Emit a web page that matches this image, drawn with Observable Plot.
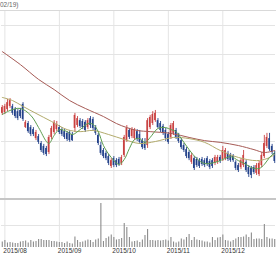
<!DOCTYPE html>
<html><head><meta charset="utf-8">
<script src="https://cdn.jsdelivr.net/npm/d3@7"></script>
<script src="https://cdn.jsdelivr.net/npm/@observablehq/plot@0.6"></script>
<style>
body{margin:0;background:#fff;width:276px;height:260px;overflow:hidden;font-family:"Liberation Sans",sans-serif}
#title{height:10px;border-bottom:1px solid #d9d9d9;font-size:6.5px;color:#666;line-height:10px;white-space:nowrap;overflow:hidden}
#sep{height:2px;background:#c6c6c6}
svg{display:block}
</style></head><body>
<div id="title">02/19)</div>
<div id="price"></div>
<div id="sep"></div>
<div id="vol"></div>
<script>
const titleText = "02/19)";
const monthLabels = ["2015/08","2015/09","2015/10","2015/11","2015/12"];
const monthIdx = [1,22,43,64,85];
const priceTicks = [1000,1100,1200,1300,1400,1500];
const volTicks = [1000];

const opens = [1197,1200,1210,1221,1221,1210,1203,1207,1228,1148,
1162,1148,1141,1110,1117,1093,1083,1076,1062,1114,
1131,1141,1148,1141,1134,1128,1131,1124,1145,1155,
1172,1169,1166,1148,1179,1176,1148,1121,1086,1069,
1059,1048,1014,1041,1034,1038,1024,1052,1103,1138,
1117,1110,1134,1124,1103,1097,1086,1148,1162,1172,
1172,1162,1152,1138,1124,1114,1128,1138,1121,1103,
1086,1072,1062,1028,1041,1038,1034,1038,1034,1041,
1031,1034,1024,1028,1045,1038,1041,1059,1052,1048,
1028,1017,1010,1017,1028,1010,1007,1010,990,986,
1017,1048,1083,1110,1083,1059];
const highs = [1224,1228,1245,1248,1228,1217,1210,1214,1234,1172,
1169,1155,1148,1138,1124,1100,1090,1083,1121,1152,
1172,1169,1155,1148,1141,1134,1138,1131,1197,1186,
1179,1176,1172,1179,1186,1183,1155,1128,1097,1076,
1066,1055,1041,1048,1041,1045,1052,1121,1155,1145,
1148,1145,1141,1138,1110,1110,1179,1190,1203,1207,
1179,1169,1159,1145,1131,1162,1169,1145,1128,1110,
1093,1079,1069,1059,1048,1045,1041,1045,1041,1048,
1038,1041,1052,1052,1052,1083,1076,1066,1059,1055,
1034,1024,1041,1069,1034,1017,1014,1017,1024,1031,
1062,1121,1128,1128,1090,1066];
const lows = [1190,1193,1203,1214,1190,1179,1172,1179,1169,1145,
1128,1117,1117,1103,1090,1062,1052,1048,1055,1107,
1124,1134,1124,1117,1107,1100,1097,1100,1131,1148,
1145,1141,1131,1141,1145,1138,1121,1086,1052,1041,
1034,1017,1007,1010,1010,1014,1017,1045,1097,1107,
1110,1103,1100,1090,1072,1069,1076,1141,1155,1166,
1145,1131,1121,1100,1090,1107,1121,1107,1093,1072,
1062,1041,1034,1021,1000,1010,1007,1014,1010,1014,
1003,1007,1017,1021,1024,1031,1034,1031,1028,1028,
1000,993,1003,1010,993,976,972,986,983,979,
1010,1041,1076,1066,1055,1024];
const closes = [1217,1221,1234,1241,1197,1186,1179,1186,1176,1166,
1134,1124,1124,1131,1097,1069,1059,1055,1114,1145,
1166,1159,1131,1124,1114,1107,1103,1103,1190,1179,
1152,1148,1138,1172,1155,1145,1128,1093,1059,1048,
1041,1024,1034,1017,1017,1021,1045,1114,1145,1114,
1141,1138,1107,1097,1079,1076,1172,1183,1193,1197,
1148,1138,1128,1110,1097,1155,1162,1114,1100,1079,
1069,1048,1041,1052,1007,1017,1014,1021,1017,1021,
1010,1014,1045,1045,1031,1069,1069,1038,1034,1034,
1007,1000,1034,1052,1000,986,983,993,1017,1024,
1052,1093,1114,1072,1062,1031];
const volumes = [250,318,205,227,205,182,182,250,273,295,
205,318,250,273,364,364,318,318,318,273,
273,250,227,227,182,250,182,159,477,318,
227,250,295,341,318,227,341,386,2000,273,
409,477,568,455,341,364,409,1091,909,455,
250,273,295,227,341,545,818,318,318,295,
318,295,318,341,295,455,250,205,250,386,
341,455,591,318,455,341,318,295,250,250,
205,455,318,432,455,568,318,295,250,318,
386,455,455,477,568,455,659,364,386,386,
364,1045,455,386,386,364];

const ma75Idx = [0,7,14,20,26,32,39,44,48,52,57,65,72,78,84,91,97,101,105];
const ma75 = [1410,1365,1314,1279,1241,1214,1186,1162,1148,1138,1134,1128,1114,1103,1097,1086,1072,1062,1069];
const ma25Idx = [0,4,8,13,19,25,30,35,41,47,53,59,66,72,78,84,91,98,102,105];
const ma25 = [1252,1241,1221,1197,1169,1141,1134,1138,1124,1107,1093,1100,1114,1110,1097,1069,1045,1034,1041,1055];
const ma5Idx = [0,3,7,11,14,17,18,20,22,25,27,30,33,35,37,39,42,45,47,49,51,53,55,57,60,63,65,67,69,72,75,78,82,85,88,91,94,96,99,101,103,105];
const ma5 = [1193,1207,1214,1190,1148,1100,1093,1121,1141,1134,1124,1141,1162,1159,1134,1086,1045,1021,1038,1076,1107,1110,1097,1114,1145,1148,1141,1134,1110,1072,1041,1024,1028,1038,1048,1034,1021,1010,1007,1021,1045,1062];

const RED = "#c94040", BLUE = "#22418a", GRID = "#e4e4e4";
const candles = opens.map((o, i) => ({i, o, h: highs[i], l: lows[i], c: closes[i]}));
const ups = candles.filter(d => d.c >= d.o);
const downs = candles.filter(d => d.c < d.o);
const xOpt = () => ({type: "band", domain: d3.range(opens.length), paddingInner: 0.4, paddingOuter: 0, round: false, axis: null});
const maLine = (ix, vals, color) => Plot.line(ix.map((x, k) => ({x, y: vals[k]})), {x: "x", y: "y", stroke: color, strokeWidth: 1, curve: "catmull-rom"});

document.getElementById("title").textContent = titleText;

const price = Plot.plot({
  width: 276, height: 187, marginTop: 0, marginBottom: 0, marginLeft: 1, marginRight: 1,
  style: {fontFamily: "Liberation Sans", background: "transparent"},
  x: xOpt(),
  y: {domain: [903.45, 1548.28], axis: null},
  marks: [
    Plot.ruleY(priceTicks, {stroke: GRID}),
    Plot.ruleX(monthIdx, {stroke: GRID}),
    Plot.ruleX(ups, {x: "i", y1: "l", y2: "h", stroke: RED, strokeWidth: 0.9}),
    Plot.barY(ups, {x: "i", y1: "o", y2: "c", fill: RED}),
    Plot.ruleX(downs, {x: "i", y1: "l", y2: "h", stroke: BLUE, strokeWidth: 0.9}),
    Plot.barY(downs, {x: "i", y1: "o", y2: "c", fill: BLUE}),
    maLine(ma75Idx, ma75, "#a65a55"),
    maLine(ma25Idx, ma25, "#b3ab6c"),
    maLine(ma5Idx, ma5, "#5e9e50")
  ]
});
document.getElementById("price").appendChild(price);

const vol = Plot.plot({
  width: 276, height: 60, marginTop: 0, marginBottom: 13, marginLeft: 1, marginRight: 1,
  style: {fontFamily: "Liberation Sans", background: "transparent", overflow: "visible"},
  x: xOpt(),
  y: {domain: [0, 2136], axis: null},
  marks: [
    Plot.ruleY(volTicks, {stroke: GRID}),
    Plot.ruleX(monthIdx, {stroke: GRID}),
    Plot.ruleX(volumes.map((v, i) => ({i, v})), {x: "i", y1: 0, y2: "v", stroke: "#8c8c8c", strokeWidth: 1.1}),
    Plot.text(monthLabels, {x: (d, k) => monthIdx[k], text: d => d, frameAnchor: "bottom", dy: 5, dx: -1.5, textAnchor: "start", fontSize: 6.5, fill: "#333"})
  ]
});
document.getElementById("vol").appendChild(vol);
</script>
</body></html>
